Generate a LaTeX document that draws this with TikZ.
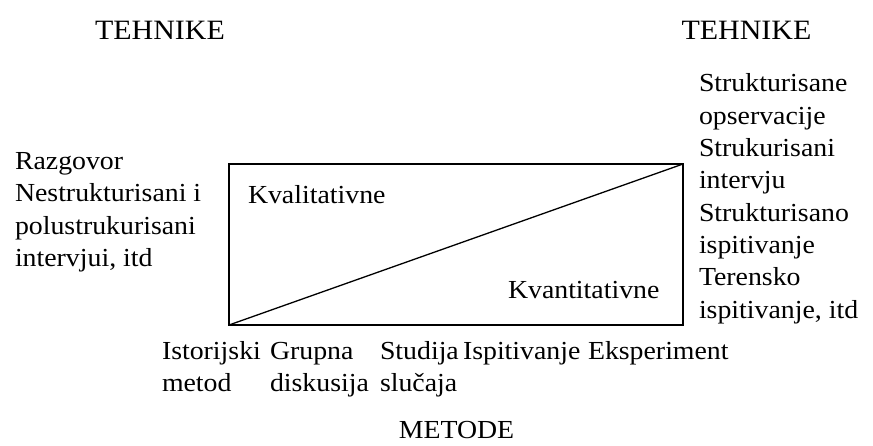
\documentclass[tikz,border=0pt]{standalone}
\usepackage{fontspec}
\setmainfont[FakeStretch=1.07]{Liberation Serif}
\begin{document}
\begin{tikzpicture}[x=1pt,y=-1pt,
  txt/.style={inner sep=0pt, outer sep=0pt, font=\fontsize{26}{32.3}\selectfont, align=left, anchor=base west, text=black},
  head/.style={inner sep=0pt, outer sep=0pt, font=\fontsize{28}{33}\selectfont, anchor=base, text=black},
  frame/.style={draw, line width=1.8pt, inner sep=0pt, outer sep=0pt, minimum width=454pt, minimum height=161pt},
  diag/.style={line width=1.3pt}]
\useasboundingbox (0,0) rectangle (873,445);
\node[frame] (box) at (456,244.5) {};
\draw[diag] (box.south west) -- (box.north east);
\node[head] (th1) at (160,39) {TEHNIKE};
\node[head] (th2) at (746.5,39) {TEHNIKE};
% multi-line nodes: the base anchor lies on the last line
\node[txt] (left) at (15,266.4) {Razgovor\\Nestrukturisani i\\polustrukurisani\\intervjui, itd};
\node[txt] (right) at (699,318) {Strukturisane\\opservacije\\Strukurisani\\intervju\\Strukturisano\\ispitivanje\\Terensko\\ispitivanje, itd};
\node[txt] (kval) at (248,203) {Kvalitativne};
\node[txt] (kvan) at (508,298) {Kvantitativne};
\node[txt] (m1) at (162,391.5) {Istorijski\\metod};
\node[txt] (m2) at (270,391.5) {Grupna\\diskusija};
\node[txt] (m3) at (380,391.5) {Studija\\slučaja};
\node[txt] (m4) at (463,359) {Ispitivanje};
\node[txt] (m5) at (588,359) {Eksperiment};
\node[head, font=\fontsize{26}{30}\selectfont] (met) at (456.5,438.5) {METODE};
\end{tikzpicture}
\end{document}
